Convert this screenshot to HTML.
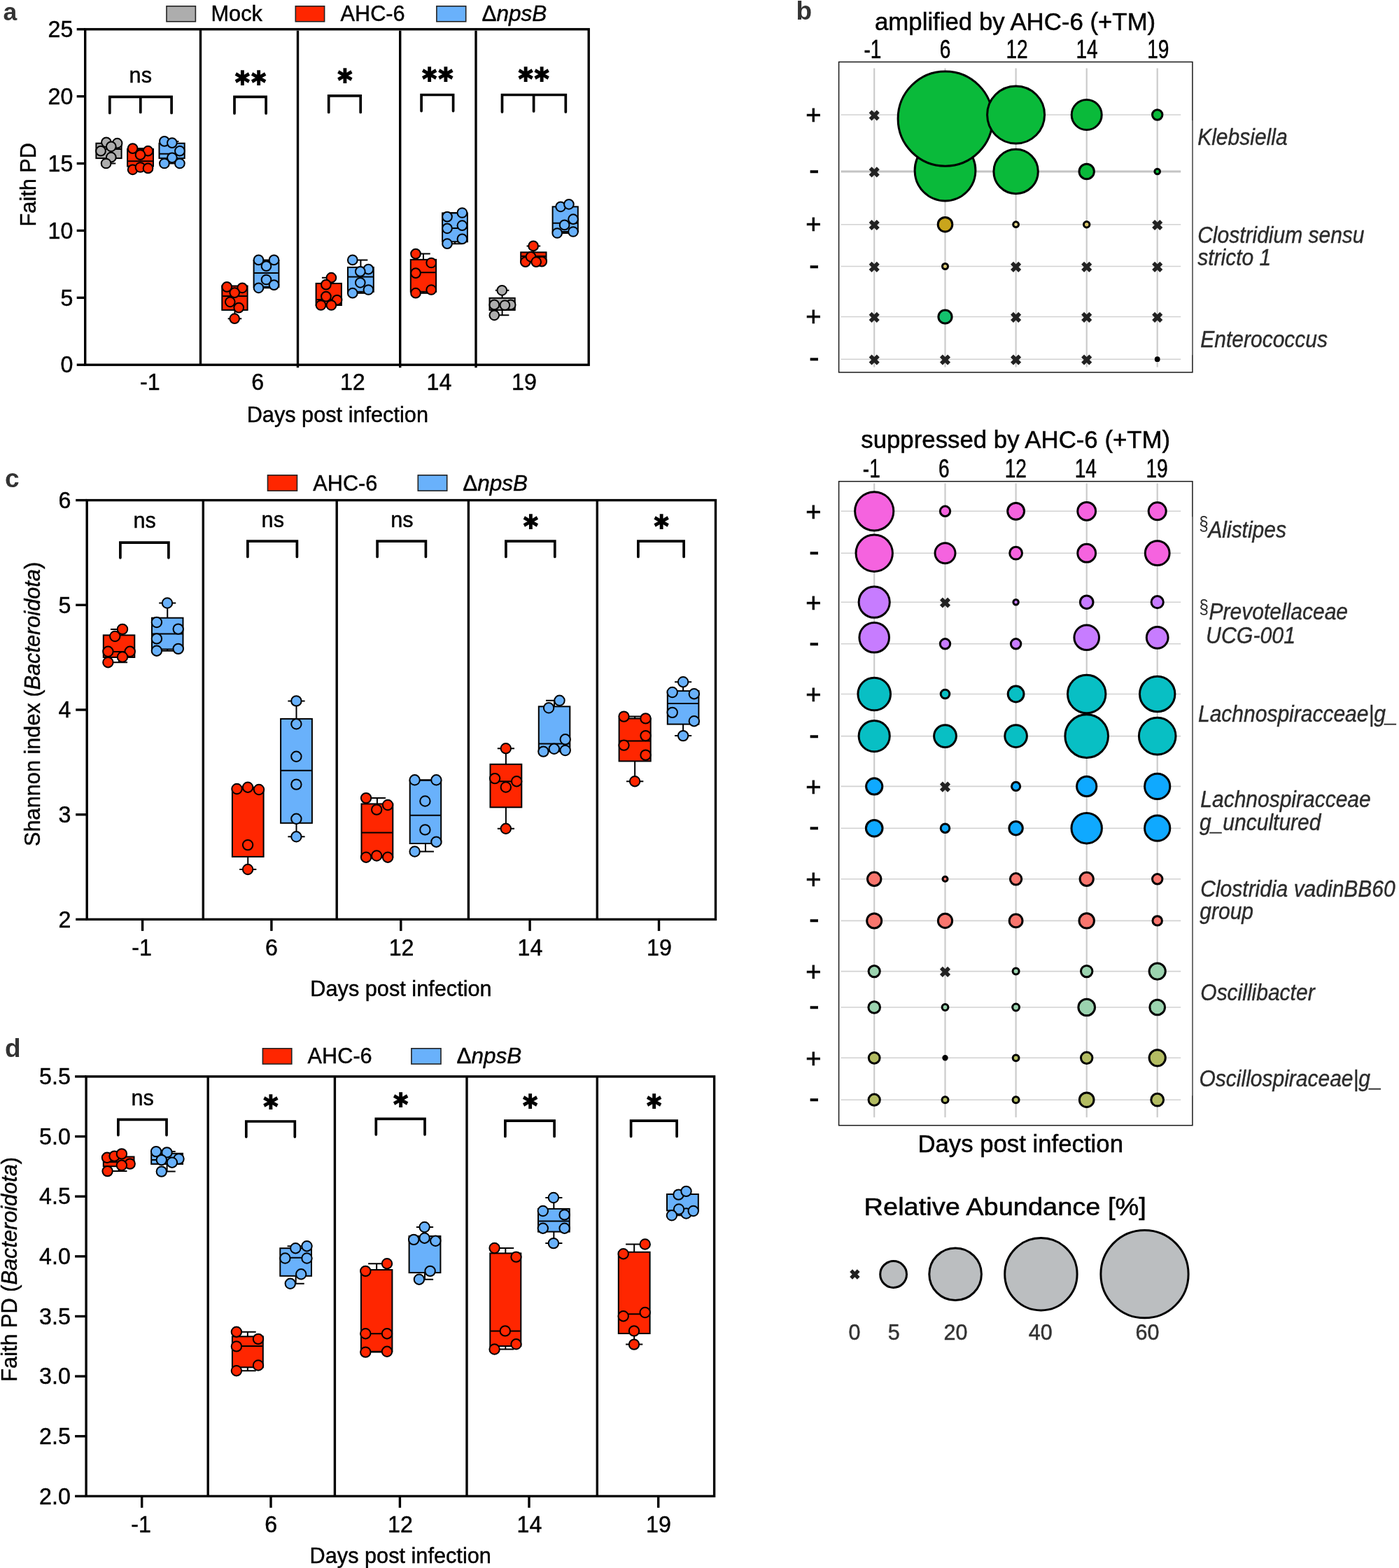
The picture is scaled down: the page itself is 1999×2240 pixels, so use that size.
<!DOCTYPE html>
<html lang="en"><head><meta charset="utf-8"><title>Figure</title>
<style>
html,body{margin:0;padding:0;background:#fff;}
body{width:1999px;height:2240px;overflow:hidden;}
svg{display:block;font-family:"Liberation Sans",sans-serif;}
</style></head><body>
<svg width="1999" height="2240" viewBox="0 0 1999 2240">
<rect x="0" y="0" width="1999" height="2240" fill="#fff"/>
<g id="panel-a">
<text x="4.5" y="29" font-size="35.5" font-weight="bold" fill="#333">a</text>
<rect x="121.7" y="41.8" width="719.5" height="479.4" fill="none" stroke="#000" stroke-width="3.4"/>
<line x1="286.5" y1="41.8" x2="286.5" y2="521.2" stroke="#000" stroke-width="3.4"/>
<line x1="425.5" y1="43.8" x2="425.5" y2="525.2" stroke="#000" stroke-width="3.4"/>
<line x1="571.7" y1="43.8" x2="571.7" y2="525.2" stroke="#000" stroke-width="3.4"/>
<line x1="680" y1="43.8" x2="680" y2="525.2" stroke="#000" stroke-width="3.4"/>
<line x1="109.7" y1="41.8" x2="121.7" y2="41.8" stroke="#000" stroke-width="3.4"/>
<text transform="translate(104.3 53) scale(0.975 1)" font-size="33.026" text-anchor="end" stroke="#000" stroke-width="0.45">25</text>
<line x1="109.7" y1="137.68" x2="121.7" y2="137.68" stroke="#000" stroke-width="3.4"/>
<text transform="translate(104.3 148.88) scale(0.975 1)" font-size="33.026" text-anchor="end" stroke="#000" stroke-width="0.45">20</text>
<line x1="109.7" y1="233.56" x2="121.7" y2="233.56" stroke="#000" stroke-width="3.4"/>
<text transform="translate(104.3 244.76) scale(0.975 1)" font-size="33.026" text-anchor="end" stroke="#000" stroke-width="0.45">15</text>
<line x1="109.7" y1="329.44" x2="121.7" y2="329.44" stroke="#000" stroke-width="3.4"/>
<text transform="translate(104.3 340.64) scale(0.975 1)" font-size="33.026" text-anchor="end" stroke="#000" stroke-width="0.45">10</text>
<line x1="109.7" y1="425.32" x2="121.7" y2="425.32" stroke="#000" stroke-width="3.4"/>
<text transform="translate(104.3 436.52) scale(0.975 1)" font-size="33.026" text-anchor="end" stroke="#000" stroke-width="0.45">5</text>
<line x1="109.7" y1="521.2" x2="121.7" y2="521.2" stroke="#000" stroke-width="3.4"/>
<text transform="translate(104.3 532.4) scale(0.975 1)" font-size="33.026" text-anchor="end" stroke="#000" stroke-width="0.45">0</text>
<text transform="translate(214.3 557.4) scale(0.975 1)" font-size="33.026" text-anchor="middle" stroke="#000" stroke-width="0.45">-1</text>
<text transform="translate(368.1 557.4) scale(0.975 1)" font-size="33.026" text-anchor="middle" stroke="#000" stroke-width="0.45">6</text>
<text transform="translate(503.8 557.4) scale(0.975 1)" font-size="33.026" text-anchor="middle" stroke="#000" stroke-width="0.45">12</text>
<text transform="translate(627.5 557.4) scale(0.975 1)" font-size="33.026" text-anchor="middle" stroke="#000" stroke-width="0.45">14</text>
<text transform="translate(748.9 557.4) scale(0.975 1)" font-size="33.026" text-anchor="middle" stroke="#000" stroke-width="0.45">19</text>
<text transform="translate(482.3 602.6) scale(0.955 1)" font-size="32.147" text-anchor="middle" stroke="#000" stroke-width="0.45">Days post infection</text>
<text transform="translate(51.3 263.7) rotate(-90) scale(0.955 1)" font-size="32.147" text-anchor="middle" stroke="#000" stroke-width="0.45">Faith PD</text>
<rect x="238" y="8.8" width="41.4" height="22" fill="#ADADAD" stroke="#222" stroke-width="1.6"/>
<text transform="translate(301.5 30) scale(0.955 1)" font-size="32.147" stroke="#000" stroke-width="0.45">Mock</text>
<rect x="422.3" y="8.8" width="41.3" height="22" fill="#FF2600" stroke="#222" stroke-width="1.6"/>
<text transform="translate(486.5 30) scale(0.955 1)" font-size="32.147" stroke="#000" stroke-width="0.45">AHC-6</text>
<rect x="623.9" y="8.8" width="41.8" height="22" fill="#69B1FB" stroke="#222" stroke-width="1.6"/>
<text transform="translate(688.5 30) scale(0.955 1)" font-size="32.147" stroke="#000" stroke-width="0.45" textLength="97.173" lengthAdjust="spacingAndGlyphs">Δ<tspan font-style="italic">npsB</tspan></text>
<text transform="translate(200.8 118.1) scale(0.955 1)" font-size="32.147" text-anchor="middle" stroke="#000" stroke-width="0.45">ns</text>
<path d="M156.8 161.5V138.3H245.1V161.5M200.8 138.3V160.5" fill="none" stroke="#000" stroke-width="3.7" stroke-linecap="round" stroke-linejoin="miter"/>
<text transform="translate(358 133.1) scale(0.945 1.03)" x="1.25" y="0" font-size="42" text-anchor="middle" font-weight="bold" font-family="'DejaVu Sans','Liberation Sans',sans-serif" stroke="#000" stroke-width="1.7" stroke-linejoin="miter" letter-spacing="2.5">**</text>
<path d="M335 161.9V138.3H380.1V161.9" fill="none" stroke="#000" stroke-width="3.7" stroke-linecap="round" stroke-linejoin="miter"/>
<text transform="translate(492.9 130.4) scale(0.945 1.03)" x="1.25" y="0" font-size="42" text-anchor="middle" font-weight="bold" font-family="'DejaVu Sans','Liberation Sans',sans-serif" stroke="#000" stroke-width="1.7" stroke-linejoin="miter" letter-spacing="2.5">*</text>
<path d="M469.7 160.4V136.9H515.2V160.4" fill="none" stroke="#000" stroke-width="3.7" stroke-linecap="round" stroke-linejoin="miter"/>
<text transform="translate(625.3 127.7) scale(0.945 1.03)" x="1.25" y="0" font-size="42" text-anchor="middle" font-weight="bold" font-family="'DejaVu Sans','Liberation Sans',sans-serif" stroke="#000" stroke-width="1.7" stroke-linejoin="miter" letter-spacing="2.5">**</text>
<path d="M602.1 158.6V135.5H647.6V158.6" fill="none" stroke="#000" stroke-width="3.7" stroke-linecap="round" stroke-linejoin="miter"/>
<text transform="translate(762.6 128.2) scale(0.945 1.03)" x="1.25" y="0" font-size="42" text-anchor="middle" font-weight="bold" font-family="'DejaVu Sans','Liberation Sans',sans-serif" stroke="#000" stroke-width="1.7" stroke-linejoin="miter" letter-spacing="2.5">**</text>
<path d="M717.5 159.9V135.5H808.3V159.9M762.6 135.5V158.9" fill="none" stroke="#000" stroke-width="3.7" stroke-linecap="round" stroke-linejoin="miter"/>
<g><path d="M155.5 203.3V204.7M155.5 226.1V233.5M145.726 203.3H165.274M145.726 233.5H165.274" stroke="#000" stroke-width="2" fill="none"/><rect x="137.4" y="204.7" width="36.2" height="21.4" fill="#ADADAD" stroke="#000" stroke-width="2"/><path d="M137.4 212.9H173.6" stroke="#000" stroke-width="2"/><circle cx="151.9" cy="203.3" r="6.85" fill="#ADADAD" stroke="#000" stroke-width="2"/><circle cx="167.6" cy="204.7" r="6.85" fill="#ADADAD" stroke="#000" stroke-width="2"/><circle cx="158.8" cy="209.3" r="6.85" fill="#ADADAD" stroke="#000" stroke-width="2"/><circle cx="144" cy="215.7" r="6.85" fill="#ADADAD" stroke="#000" stroke-width="2"/><circle cx="158.8" cy="224.7" r="6.85" fill="#ADADAD" stroke="#000" stroke-width="2"/><circle cx="151.6" cy="233.5" r="6.85" fill="#ADADAD" stroke="#000" stroke-width="2"/></g>
<g><path d="M200.55 212.1V212.9M200.55 237.6V242.3M190.587 212.1H210.513M190.587 242.3H210.513" stroke="#000" stroke-width="2" fill="none"/><rect x="182.1" y="212.9" width="36.9" height="24.7" fill="#FF2600" stroke="#000" stroke-width="2"/><path d="M182.1 230.2H219" stroke="#000" stroke-width="2"/><circle cx="189.6" cy="212.1" r="6.85" fill="#FF2600" stroke="#000" stroke-width="2"/><circle cx="211.5" cy="215.7" r="6.85" fill="#FF2600" stroke="#000" stroke-width="2"/><circle cx="200.5" cy="221.2" r="6.85" fill="#FF2600" stroke="#000" stroke-width="2"/><circle cx="189.6" cy="242.3" r="6.85" fill="#FF2600" stroke="#000" stroke-width="2"/><circle cx="200.5" cy="239" r="6.85" fill="#FF2600" stroke="#000" stroke-width="2"/><circle cx="211.5" cy="240.4" r="6.85" fill="#FF2600" stroke="#000" stroke-width="2"/></g>
<g><path d="M245.6 201.9V204.7M245.6 226.1V233.5M235.826 201.9H255.374M235.826 233.5H255.374" stroke="#000" stroke-width="2" fill="none"/><rect x="227.5" y="204.7" width="36.2" height="21.4" fill="#69B1FB" stroke="#000" stroke-width="2"/><path d="M227.5 219.8H263.7" stroke="#000" stroke-width="2"/><circle cx="234.9" cy="201.9" r="6.85" fill="#69B1FB" stroke="#000" stroke-width="2"/><circle cx="245.9" cy="204.1" r="6.85" fill="#69B1FB" stroke="#000" stroke-width="2"/><circle cx="256.9" cy="215.7" r="6.85" fill="#69B1FB" stroke="#000" stroke-width="2"/><circle cx="234.9" cy="233.5" r="6.85" fill="#69B1FB" stroke="#000" stroke-width="2"/><circle cx="245.9" cy="225.3" r="6.85" fill="#69B1FB" stroke="#000" stroke-width="2"/><circle cx="256.9" cy="233.5" r="6.85" fill="#69B1FB" stroke="#000" stroke-width="2"/></g>
<g><path d="M335.45 409.9V408.5M335.45 442.9V455.2M325.649 409.9H345.251M325.649 455.2H345.251" stroke="#000" stroke-width="2" fill="none"/><rect x="317.3" y="408.5" width="36.3" height="34.4" fill="#FF2600" stroke="#000" stroke-width="2"/><path d="M317.3 423.1H353.6" stroke="#000" stroke-width="2"/><circle cx="324.2" cy="409.9" r="6.85" fill="#FF2600" stroke="#000" stroke-width="2"/><circle cx="346.2" cy="411.3" r="6.85" fill="#FF2600" stroke="#000" stroke-width="2"/><circle cx="335.2" cy="418.1" r="6.85" fill="#FF2600" stroke="#000" stroke-width="2"/><circle cx="328.8" cy="431.3" r="6.85" fill="#FF2600" stroke="#000" stroke-width="2"/><circle cx="341.2" cy="439.6" r="6.85" fill="#FF2600" stroke="#000" stroke-width="2"/><circle cx="335.2" cy="455.2" r="6.85" fill="#FF2600" stroke="#000" stroke-width="2"/></g>
<g><path d="M380.5 371.4V372M380.5 409.9V411.3M370.834 371.4H390.166M370.834 411.3H390.166" stroke="#000" stroke-width="2" fill="none"/><rect x="362.6" y="372" width="35.8" height="37.9" fill="#69B1FB" stroke="#000" stroke-width="2"/><path d="M362.6 390.1H398.4" stroke="#000" stroke-width="2"/><circle cx="369.5" cy="371.4" r="6.85" fill="#69B1FB" stroke="#000" stroke-width="2"/><circle cx="391.5" cy="371.4" r="6.85" fill="#69B1FB" stroke="#000" stroke-width="2"/><circle cx="380.5" cy="380.2" r="6.85" fill="#69B1FB" stroke="#000" stroke-width="2"/><circle cx="380.5" cy="399.5" r="6.85" fill="#69B1FB" stroke="#000" stroke-width="2"/><circle cx="369.5" cy="411.3" r="6.85" fill="#69B1FB" stroke="#000" stroke-width="2"/><circle cx="391.5" cy="407.1" r="6.85" fill="#69B1FB" stroke="#000" stroke-width="2"/></g>
<g><path d="M469.75 396.7V404.9M469.75 436V436M459.949 396.7H479.551M459.949 436H479.551" stroke="#000" stroke-width="2" fill="none"/><rect x="451.6" y="404.9" width="36.3" height="31.1" fill="#FF2600" stroke="#000" stroke-width="2"/><path d="M451.6 428H487.9" stroke="#000" stroke-width="2"/><circle cx="473.4" cy="396.7" r="6.85" fill="#FF2600" stroke="#000" stroke-width="2"/><circle cx="465.9" cy="406.6" r="6.85" fill="#FF2600" stroke="#000" stroke-width="2"/><circle cx="465.9" cy="423.6" r="6.85" fill="#FF2600" stroke="#000" stroke-width="2"/><circle cx="481.6" cy="428.6" r="6.85" fill="#FF2600" stroke="#000" stroke-width="2"/><circle cx="458.5" cy="436" r="6.85" fill="#FF2600" stroke="#000" stroke-width="2"/><circle cx="473.4" cy="436" r="6.85" fill="#FF2600" stroke="#000" stroke-width="2"/></g>
<g><path d="M515.4 371.4V381.9M515.4 416.8V418.7M505.464 371.4H525.336M505.464 418.7H525.336" stroke="#000" stroke-width="2" fill="none"/><rect x="497" y="381.9" width="36.8" height="34.9" fill="#69B1FB" stroke="#000" stroke-width="2"/><path d="M497 395.6H533.8" stroke="#000" stroke-width="2"/><circle cx="503.8" cy="371.4" r="6.85" fill="#69B1FB" stroke="#000" stroke-width="2"/><circle cx="526.4" cy="384.6" r="6.85" fill="#69B1FB" stroke="#000" stroke-width="2"/><circle cx="514.8" cy="387.9" r="6.85" fill="#69B1FB" stroke="#000" stroke-width="2"/><circle cx="514.8" cy="403.8" r="6.85" fill="#69B1FB" stroke="#000" stroke-width="2"/><circle cx="503.8" cy="418.7" r="6.85" fill="#69B1FB" stroke="#000" stroke-width="2"/><circle cx="526.4" cy="414" r="6.85" fill="#69B1FB" stroke="#000" stroke-width="2"/></g>
<g><path d="M604.95 362.6V370.9M604.95 416.8V418.7M595.149 362.6H614.751M595.149 418.7H614.751" stroke="#000" stroke-width="2" fill="none"/><rect x="586.8" y="370.9" width="36.3" height="45.9" fill="#FF2600" stroke="#000" stroke-width="2"/><path d="M586.8 389.3H623.1" stroke="#000" stroke-width="2"/><circle cx="594" cy="362.6" r="6.85" fill="#FF2600" stroke="#000" stroke-width="2"/><circle cx="616.2" cy="375.5" r="6.85" fill="#FF2600" stroke="#000" stroke-width="2"/><circle cx="594" cy="390.1" r="6.85" fill="#FF2600" stroke="#000" stroke-width="2"/><circle cx="594" cy="418.7" r="6.85" fill="#FF2600" stroke="#000" stroke-width="2"/><circle cx="616.2" cy="414" r="6.85" fill="#FF2600" stroke="#000" stroke-width="2"/></g>
<g><path d="M650 304V304.4M650 345.3V348.2M640.334 304H659.666M640.334 348.2H659.666" stroke="#000" stroke-width="2" fill="none"/><rect x="632.1" y="304.4" width="35.8" height="40.9" fill="#69B1FB" stroke="#000" stroke-width="2"/><path d="M632.1 326.1H667.9" stroke="#000" stroke-width="2"/><circle cx="660.4" cy="304" r="6.85" fill="#69B1FB" stroke="#000" stroke-width="2"/><circle cx="639" cy="309.6" r="6.85" fill="#69B1FB" stroke="#000" stroke-width="2"/><circle cx="660.4" cy="322.2" r="6.85" fill="#69B1FB" stroke="#000" stroke-width="2"/><circle cx="639" cy="326.3" r="6.85" fill="#69B1FB" stroke="#000" stroke-width="2"/><circle cx="660.4" cy="341.4" r="6.85" fill="#69B1FB" stroke="#000" stroke-width="2"/><circle cx="639" cy="348.2" r="6.85" fill="#69B1FB" stroke="#000" stroke-width="2"/></g>
<g><path d="M717.6 414.8V425.8M717.6 442.9V450.3M707.826 414.8H727.374M707.826 450.3H727.374" stroke="#000" stroke-width="2" fill="none"/><rect x="699.5" y="425.8" width="36.2" height="17.1" fill="#ADADAD" stroke="#000" stroke-width="2"/><path d="M699.5 436H735.7" stroke="#000" stroke-width="2"/><circle cx="717.3" cy="414.8" r="6.85" fill="#ADADAD" stroke="#000" stroke-width="2"/><circle cx="706.3" cy="435.4" r="6.85" fill="#ADADAD" stroke="#000" stroke-width="2"/><circle cx="729.7" cy="435.4" r="6.85" fill="#ADADAD" stroke="#000" stroke-width="2"/><circle cx="721.4" cy="436" r="6.85" fill="#ADADAD" stroke="#000" stroke-width="2"/><circle cx="706.3" cy="450.3" r="6.85" fill="#ADADAD" stroke="#000" stroke-width="2"/></g>
<g><path d="M762.35 351.4V360.4M762.35 374.2V374.2M752.549 351.4H772.151M752.549 374.2H772.151" stroke="#000" stroke-width="2" fill="none"/><rect x="744.2" y="360.4" width="36.3" height="13.8" fill="#FF2600" stroke="#000" stroke-width="2"/><path d="M744.2 366H780.5" stroke="#000" stroke-width="2"/><circle cx="762.1" cy="351.4" r="6.85" fill="#FF2600" stroke="#000" stroke-width="2"/><circle cx="750.8" cy="374.2" r="6.85" fill="#FF2600" stroke="#000" stroke-width="2"/><circle cx="774.2" cy="373.6" r="6.85" fill="#FF2600" stroke="#000" stroke-width="2"/><circle cx="758.5" cy="366.8" r="6.85" fill="#FF2600" stroke="#000" stroke-width="2"/><circle cx="766.2" cy="374.2" r="6.85" fill="#FF2600" stroke="#000" stroke-width="2"/></g>
<g><path d="M807.7 291.8V295.3M807.7 331V333M797.926 291.8H817.474M797.926 333H817.474" stroke="#000" stroke-width="2" fill="none"/><rect x="789.6" y="295.3" width="36.2" height="35.7" fill="#69B1FB" stroke="#000" stroke-width="2"/><path d="M789.6 318.7H825.8" stroke="#000" stroke-width="2"/><circle cx="801.1" cy="295.3" r="6.85" fill="#69B1FB" stroke="#000" stroke-width="2"/><circle cx="812.9" cy="291.8" r="6.85" fill="#69B1FB" stroke="#000" stroke-width="2"/><circle cx="819" cy="313.2" r="6.85" fill="#69B1FB" stroke="#000" stroke-width="2"/><circle cx="806.6" cy="321.4" r="6.85" fill="#69B1FB" stroke="#000" stroke-width="2"/><circle cx="796.2" cy="333" r="6.85" fill="#69B1FB" stroke="#000" stroke-width="2"/><circle cx="819" cy="331" r="6.85" fill="#69B1FB" stroke="#000" stroke-width="2"/></g>
</g>
<g id="panel-c">
<text x="7" y="695.5" font-size="37" font-weight="bold" fill="#333">c</text>
<rect x="124.2" y="714.6" width="898.3" height="598.8" fill="none" stroke="#000" stroke-width="3.4"/>
<line x1="290.3" y1="714.6" x2="290.3" y2="1313.4" stroke="#000" stroke-width="3.4"/>
<line x1="481.2" y1="714.6" x2="481.2" y2="1313.4" stroke="#000" stroke-width="3.4"/>
<line x1="669.4" y1="714.6" x2="669.4" y2="1313.4" stroke="#000" stroke-width="3.4"/>
<line x1="853.3" y1="714.6" x2="853.3" y2="1313.4" stroke="#000" stroke-width="3.4"/>
<line x1="108.2" y1="714.6" x2="124.2" y2="714.6" stroke="#000" stroke-width="3.4"/>
<text transform="translate(101.3 725.8) scale(0.975 1)" font-size="33.026" text-anchor="end" stroke="#000" stroke-width="0.45">6</text>
<line x1="108.2" y1="864.3" x2="124.2" y2="864.3" stroke="#000" stroke-width="3.4"/>
<text transform="translate(101.3 875.5) scale(0.975 1)" font-size="33.026" text-anchor="end" stroke="#000" stroke-width="0.45">5</text>
<line x1="108.2" y1="1014" x2="124.2" y2="1014" stroke="#000" stroke-width="3.4"/>
<text transform="translate(101.3 1025.2) scale(0.975 1)" font-size="33.026" text-anchor="end" stroke="#000" stroke-width="0.45">4</text>
<line x1="108.2" y1="1163.7" x2="124.2" y2="1163.7" stroke="#000" stroke-width="3.4"/>
<text transform="translate(101.3 1174.9) scale(0.975 1)" font-size="33.026" text-anchor="end" stroke="#000" stroke-width="0.45">3</text>
<line x1="108.2" y1="1313.4" x2="124.2" y2="1313.4" stroke="#000" stroke-width="3.4"/>
<text transform="translate(101.3 1324.6) scale(0.975 1)" font-size="33.026" text-anchor="end" stroke="#000" stroke-width="0.45">2</text>
<line x1="203.6" y1="1313.4" x2="203.6" y2="1329.9" stroke="#000" stroke-width="3.4"/>
<line x1="387.9" y1="1313.4" x2="387.9" y2="1329.9" stroke="#000" stroke-width="3.4"/>
<line x1="572.8" y1="1313.4" x2="572.8" y2="1329.9" stroke="#000" stroke-width="3.4"/>
<line x1="757.1" y1="1313.4" x2="757.1" y2="1329.9" stroke="#000" stroke-width="3.4"/>
<line x1="941.5" y1="1313.4" x2="941.5" y2="1329.9" stroke="#000" stroke-width="3.4"/>
<text transform="translate(202.5 1365) scale(0.975 1)" font-size="33.026" text-anchor="middle" stroke="#000" stroke-width="0.45">-1</text>
<text transform="translate(388 1365) scale(0.975 1)" font-size="33.026" text-anchor="middle" stroke="#000" stroke-width="0.45">6</text>
<text transform="translate(573.6 1365) scale(0.975 1)" font-size="33.026" text-anchor="middle" stroke="#000" stroke-width="0.45">12</text>
<text transform="translate(757.4 1365) scale(0.975 1)" font-size="33.026" text-anchor="middle" stroke="#000" stroke-width="0.45">14</text>
<text transform="translate(942 1365) scale(0.975 1)" font-size="33.026" text-anchor="middle" stroke="#000" stroke-width="0.45">19</text>
<text transform="translate(573 1422.5) scale(0.955 1)" font-size="32.147" text-anchor="middle" stroke="#000" stroke-width="0.45">Days post infection</text>
<text transform="translate(56.7 1005.9) rotate(-90) scale(0.955 1)" font-size="32.147" text-anchor="middle" stroke="#000" stroke-width="0.45">Shannon index (<tspan font-style="italic">Bacteroidota</tspan>)</text>
<rect x="382.5" y="678.8" width="42" height="22.3" fill="#FF2600" stroke="#222" stroke-width="1.6"/>
<text transform="translate(447.3 700.5) scale(0.955 1)" font-size="32.147" stroke="#000" stroke-width="0.45">AHC-6</text>
<rect x="597.3" y="678.8" width="41.4" height="22.3" fill="#69B1FB" stroke="#222" stroke-width="1.6"/>
<text transform="translate(661.3 700.5) scale(0.955 1)" font-size="32.147" stroke="#000" stroke-width="0.45" textLength="97.173" lengthAdjust="spacingAndGlyphs">Δ<tspan font-style="italic">npsB</tspan></text>
<text transform="translate(206.6 754.4) scale(0.955 1)" font-size="32.147" text-anchor="middle" stroke="#000" stroke-width="0.45">ns</text>
<path d="M171.9 796.8V775.1H240.9V796.8" fill="none" stroke="#000" stroke-width="3.7" stroke-linecap="round" stroke-linejoin="miter"/>
<text transform="translate(389.8 753) scale(0.955 1)" font-size="32.147" text-anchor="middle" stroke="#000" stroke-width="0.45">ns</text>
<path d="M353.9 795.5V773.2H424.4V795.5" fill="none" stroke="#000" stroke-width="3.7" stroke-linecap="round" stroke-linejoin="miter"/>
<text transform="translate(574.5 753) scale(0.955 1)" font-size="32.147" text-anchor="middle" stroke="#000" stroke-width="0.45">ns</text>
<path d="M539.1 795.5V773.2H608.4V795.5" fill="none" stroke="#000" stroke-width="3.7" stroke-linecap="round" stroke-linejoin="miter"/>
<text transform="translate(758.4 767.2) scale(0.945 1.03)" x="1.25" y="0" font-size="42" text-anchor="middle" font-weight="bold" font-family="'DejaVu Sans','Liberation Sans',sans-serif" stroke="#000" stroke-width="1.7" stroke-linejoin="miter" letter-spacing="2.5">*</text>
<path d="M722.9 795.5V773.2H792.8V795.5" fill="none" stroke="#000" stroke-width="3.7" stroke-linecap="round" stroke-linejoin="miter"/>
<text transform="translate(945.2 767.2) scale(0.945 1.03)" x="1.25" y="0" font-size="42" text-anchor="middle" font-weight="bold" font-family="'DejaVu Sans','Liberation Sans',sans-serif" stroke="#000" stroke-width="1.7" stroke-linejoin="miter" letter-spacing="2.5">*</text>
<path d="M911.9 795.5V773.2H977.1V795.5" fill="none" stroke="#000" stroke-width="3.7" stroke-linecap="round" stroke-linejoin="miter"/>
<g><path d="M170.05 898.9V907.4M170.05 939V946.2M158.035 898.9H182.065M158.035 946.2H182.065" stroke="#000" stroke-width="2" fill="none"/><rect x="147.8" y="907.4" width="44.5" height="31.6" fill="#FF2600" stroke="#000" stroke-width="2"/><path d="M147.8 931H192.3" stroke="#000" stroke-width="2"/><circle cx="175" cy="898.9" r="7.2" fill="#FF2600" stroke="#000" stroke-width="2"/><circle cx="164.3" cy="909" r="7.2" fill="#FF2600" stroke="#000" stroke-width="2"/><circle cx="154.4" cy="930.8" r="7.2" fill="#FF2600" stroke="#000" stroke-width="2"/><circle cx="185.7" cy="930.8" r="7.2" fill="#FF2600" stroke="#000" stroke-width="2"/><circle cx="175" cy="938.5" r="7.2" fill="#FF2600" stroke="#000" stroke-width="2"/><circle cx="154.4" cy="946.2" r="7.2" fill="#FF2600" stroke="#000" stroke-width="2"/></g>
<g><path d="M239.25 861.5V882.7M239.25 927.5V929.7M227.235 861.5H251.265M227.235 929.7H251.265" stroke="#000" stroke-width="2" fill="none"/><rect x="217" y="882.7" width="44.5" height="44.8" fill="#69B1FB" stroke="#000" stroke-width="2"/><path d="M217 905.5H261.5" stroke="#000" stroke-width="2"/><circle cx="239" cy="861.5" r="7.2" fill="#69B1FB" stroke="#000" stroke-width="2"/><circle cx="223.9" cy="889" r="7.2" fill="#69B1FB" stroke="#000" stroke-width="2"/><circle cx="254.7" cy="898.6" r="7.2" fill="#69B1FB" stroke="#000" stroke-width="2"/><circle cx="223.9" cy="912.4" r="7.2" fill="#69B1FB" stroke="#000" stroke-width="2"/><circle cx="223.9" cy="929.7" r="7.2" fill="#69B1FB" stroke="#000" stroke-width="2"/><circle cx="254.7" cy="926.9" r="7.2" fill="#69B1FB" stroke="#000" stroke-width="2"/></g>
<g><path d="M354.25 1124.7V1127.2M354.25 1223.9V1242M342.181 1124.7H366.319M342.181 1242H366.319" stroke="#000" stroke-width="2" fill="none"/><rect x="331.9" y="1127.2" width="44.7" height="96.7" fill="#FF2600" stroke="#000" stroke-width="2"/><circle cx="338.5" cy="1127" r="7.2" fill="#FF2600" stroke="#000" stroke-width="2"/><circle cx="354.1" cy="1124.7" r="7.2" fill="#FF2600" stroke="#000" stroke-width="2"/><circle cx="370" cy="1128" r="7.2" fill="#FF2600" stroke="#000" stroke-width="2"/><circle cx="354.1" cy="1207.1" r="7.2" fill="#FF2600" stroke="#000" stroke-width="2"/><circle cx="354.1" cy="1242" r="7.2" fill="#FF2600" stroke="#000" stroke-width="2"/></g>
<g><path d="M423.5 1001.4V1026.9M423.5 1175.8V1195.3M411.404 1001.4H435.596M411.404 1195.3H435.596" stroke="#000" stroke-width="2" fill="none"/><rect x="401.1" y="1026.9" width="44.8" height="148.9" fill="#69B1FB" stroke="#000" stroke-width="2"/><path d="M401.1 1100.8H445.9" stroke="#000" stroke-width="2"/><circle cx="423.4" cy="1001.4" r="7.2" fill="#69B1FB" stroke="#000" stroke-width="2"/><circle cx="423.4" cy="1034.3" r="7.2" fill="#69B1FB" stroke="#000" stroke-width="2"/><circle cx="423.4" cy="1080.8" r="7.2" fill="#69B1FB" stroke="#000" stroke-width="2"/><circle cx="423.4" cy="1120.6" r="7.2" fill="#69B1FB" stroke="#000" stroke-width="2"/><circle cx="423.4" cy="1169.8" r="7.2" fill="#69B1FB" stroke="#000" stroke-width="2"/><circle cx="423.4" cy="1195.3" r="7.2" fill="#69B1FB" stroke="#000" stroke-width="2"/></g>
<g><path d="M538.9 1140.1V1148.4M538.9 1224.7V1224.7M526.804 1140.1H550.996M526.804 1224.7H550.996" stroke="#000" stroke-width="2" fill="none"/><rect x="516.5" y="1148.4" width="44.8" height="76.3" fill="#FF2600" stroke="#000" stroke-width="2"/><path d="M516.5 1189.6H561.3" stroke="#000" stroke-width="2"/><circle cx="523.1" cy="1140.1" r="7.2" fill="#FF2600" stroke="#000" stroke-width="2"/><circle cx="554.1" cy="1150" r="7.2" fill="#FF2600" stroke="#000" stroke-width="2"/><circle cx="538.2" cy="1156.6" r="7.2" fill="#FF2600" stroke="#000" stroke-width="2"/><circle cx="523.1" cy="1224.7" r="7.2" fill="#FF2600" stroke="#000" stroke-width="2"/><circle cx="538.2" cy="1222.5" r="7.2" fill="#FF2600" stroke="#000" stroke-width="2"/><circle cx="554.1" cy="1224.7" r="7.2" fill="#FF2600" stroke="#000" stroke-width="2"/></g>
<g><path d="M607.95 1114.3V1114.8M607.95 1205V1216.5M595.935 1114.3H619.965M595.935 1216.5H619.965" stroke="#000" stroke-width="2" fill="none"/><rect x="585.7" y="1114.8" width="44.5" height="90.2" fill="#69B1FB" stroke="#000" stroke-width="2"/><path d="M585.7 1164.8H630.2" stroke="#000" stroke-width="2"/><circle cx="592.6" cy="1114.3" r="7.2" fill="#69B1FB" stroke="#000" stroke-width="2"/><circle cx="623.4" cy="1114.3" r="7.2" fill="#69B1FB" stroke="#000" stroke-width="2"/><circle cx="607.4" cy="1144.5" r="7.2" fill="#69B1FB" stroke="#000" stroke-width="2"/><circle cx="607.4" cy="1185.4" r="7.2" fill="#69B1FB" stroke="#000" stroke-width="2"/><circle cx="623.4" cy="1202.7" r="7.2" fill="#69B1FB" stroke="#000" stroke-width="2"/><circle cx="592.6" cy="1216.5" r="7.2" fill="#69B1FB" stroke="#000" stroke-width="2"/></g>
<g><path d="M722.9 1069.2V1091.8M722.9 1153.3V1183.8M710.804 1069.2H734.996M710.804 1183.8H734.996" stroke="#000" stroke-width="2" fill="none"/><rect x="700.5" y="1091.8" width="44.8" height="61.5" fill="#FF2600" stroke="#000" stroke-width="2"/><path d="M700.5 1116.2H745.3" stroke="#000" stroke-width="2"/><circle cx="722.8" cy="1069.2" r="7.2" fill="#FF2600" stroke="#000" stroke-width="2"/><circle cx="707.1" cy="1112.1" r="7.2" fill="#FF2600" stroke="#000" stroke-width="2"/><circle cx="738.2" cy="1116.2" r="7.2" fill="#FF2600" stroke="#000" stroke-width="2"/><circle cx="722.8" cy="1124.5" r="7.2" fill="#FF2600" stroke="#000" stroke-width="2"/><circle cx="722.8" cy="1183.8" r="7.2" fill="#FF2600" stroke="#000" stroke-width="2"/></g>
<g><path d="M792.05 1000.8V1009.3M792.05 1072.3V1073.6M780.035 1000.8H804.065M780.035 1073.6H804.065" stroke="#000" stroke-width="2" fill="none"/><rect x="769.8" y="1009.3" width="44.5" height="63" fill="#69B1FB" stroke="#000" stroke-width="2"/><path d="M769.8 1062.6H814.3" stroke="#000" stroke-width="2"/><circle cx="799.5" cy="1000.8" r="7.2" fill="#69B1FB" stroke="#000" stroke-width="2"/><circle cx="784.1" cy="1011.3" r="7.2" fill="#69B1FB" stroke="#000" stroke-width="2"/><circle cx="807.7" cy="1056.3" r="7.2" fill="#69B1FB" stroke="#000" stroke-width="2"/><circle cx="776.4" cy="1073.6" r="7.2" fill="#69B1FB" stroke="#000" stroke-width="2"/><circle cx="791.8" cy="1069.8" r="7.2" fill="#69B1FB" stroke="#000" stroke-width="2"/><circle cx="807.7" cy="1072" r="7.2" fill="#69B1FB" stroke="#000" stroke-width="2"/></g>
<g><path d="M907.15 1023.6V1026.4M907.15 1087.4V1116.2M894.973 1023.6H919.327M894.973 1116.2H919.327" stroke="#000" stroke-width="2" fill="none"/><rect x="884.6" y="1026.4" width="45.1" height="61" fill="#FF2600" stroke="#000" stroke-width="2"/><path d="M884.6 1058.5H929.7" stroke="#000" stroke-width="2"/><circle cx="891.5" cy="1023.6" r="7.2" fill="#FF2600" stroke="#000" stroke-width="2"/><circle cx="922.5" cy="1026.4" r="7.2" fill="#FF2600" stroke="#000" stroke-width="2"/><circle cx="922.5" cy="1051.1" r="7.2" fill="#FF2600" stroke="#000" stroke-width="2"/><circle cx="891.5" cy="1064.6" r="7.2" fill="#FF2600" stroke="#000" stroke-width="2"/><circle cx="922.5" cy="1078.6" r="7.2" fill="#FF2600" stroke="#000" stroke-width="2"/><circle cx="907.1" cy="1116.2" r="7.2" fill="#FF2600" stroke="#000" stroke-width="2"/></g>
<g><path d="M976.1 974.2V987.1M976.1 1034.6V1051.1M964.058 974.2H988.142M964.058 1051.1H988.142" stroke="#000" stroke-width="2" fill="none"/><rect x="953.8" y="987.1" width="44.6" height="47.5" fill="#69B1FB" stroke="#000" stroke-width="2"/><path d="M953.8 1004.9H998.4" stroke="#000" stroke-width="2"/><circle cx="976.1" cy="974.2" r="7.2" fill="#69B1FB" stroke="#000" stroke-width="2"/><circle cx="960.7" cy="989" r="7.2" fill="#69B1FB" stroke="#000" stroke-width="2"/><circle cx="991.8" cy="991.2" r="7.2" fill="#69B1FB" stroke="#000" stroke-width="2"/><circle cx="960.7" cy="1017.9" r="7.2" fill="#69B1FB" stroke="#000" stroke-width="2"/><circle cx="991.8" cy="1030.2" r="7.2" fill="#69B1FB" stroke="#000" stroke-width="2"/><circle cx="976.1" cy="1051.1" r="7.2" fill="#69B1FB" stroke="#000" stroke-width="2"/></g>
</g>
<g id="panel-d">
<text x="7" y="1510.4" font-size="37" font-weight="bold" fill="#333">d</text>
<rect x="123.1" y="1537.9" width="897.5" height="599.5" fill="none" stroke="#000" stroke-width="3.4"/>
<line x1="297.2" y1="1537.9" x2="297.2" y2="2137.4" stroke="#000" stroke-width="3.4"/>
<line x1="478.4" y1="1537.9" x2="478.4" y2="2137.4" stroke="#000" stroke-width="3.4"/>
<line x1="667" y1="1537.9" x2="667" y2="2137.4" stroke="#000" stroke-width="3.4"/>
<line x1="853.3" y1="1537.9" x2="853.3" y2="2137.4" stroke="#000" stroke-width="3.4"/>
<line x1="107.1" y1="1537.9" x2="123.1" y2="1537.9" stroke="#000" stroke-width="3.4"/>
<text transform="translate(100.8 1549.1) scale(0.975 1)" font-size="33.026" text-anchor="end" stroke="#000" stroke-width="0.45">5.5</text>
<line x1="107.1" y1="1623.543" x2="123.1" y2="1623.543" stroke="#000" stroke-width="3.4"/>
<text transform="translate(100.8 1634.743) scale(0.975 1)" font-size="33.026" text-anchor="end" stroke="#000" stroke-width="0.45">5.0</text>
<line x1="107.1" y1="1709.186" x2="123.1" y2="1709.186" stroke="#000" stroke-width="3.4"/>
<text transform="translate(100.8 1720.386) scale(0.975 1)" font-size="33.026" text-anchor="end" stroke="#000" stroke-width="0.45">4.5</text>
<line x1="107.1" y1="1794.829" x2="123.1" y2="1794.829" stroke="#000" stroke-width="3.4"/>
<text transform="translate(100.8 1806.029) scale(0.975 1)" font-size="33.026" text-anchor="end" stroke="#000" stroke-width="0.45">4.0</text>
<line x1="107.1" y1="1880.471" x2="123.1" y2="1880.471" stroke="#000" stroke-width="3.4"/>
<text transform="translate(100.8 1891.671) scale(0.975 1)" font-size="33.026" text-anchor="end" stroke="#000" stroke-width="0.45">3.5</text>
<line x1="107.1" y1="1966.114" x2="123.1" y2="1966.114" stroke="#000" stroke-width="3.4"/>
<text transform="translate(100.8 1977.314) scale(0.975 1)" font-size="33.026" text-anchor="end" stroke="#000" stroke-width="0.45">3.0</text>
<line x1="107.1" y1="2051.757" x2="123.1" y2="2051.757" stroke="#000" stroke-width="3.4"/>
<text transform="translate(100.8 2062.957) scale(0.975 1)" font-size="33.026" text-anchor="end" stroke="#000" stroke-width="0.45">2.5</text>
<line x1="107.1" y1="2137.4" x2="123.1" y2="2137.4" stroke="#000" stroke-width="3.4"/>
<text transform="translate(100.8 2148.6) scale(0.975 1)" font-size="33.026" text-anchor="end" stroke="#000" stroke-width="0.45">2.0</text>
<line x1="202.7" y1="2137.4" x2="202.7" y2="2153.9" stroke="#000" stroke-width="3.4"/>
<line x1="387" y1="2137.4" x2="387" y2="2153.9" stroke="#000" stroke-width="3.4"/>
<line x1="571.4" y1="2137.4" x2="571.4" y2="2153.9" stroke="#000" stroke-width="3.4"/>
<line x1="756" y1="2137.4" x2="756" y2="2153.9" stroke="#000" stroke-width="3.4"/>
<line x1="940.7" y1="2137.4" x2="940.7" y2="2153.9" stroke="#000" stroke-width="3.4"/>
<text transform="translate(201.5 2188.8) scale(0.975 1)" font-size="33.026" text-anchor="middle" stroke="#000" stroke-width="0.45">-1</text>
<text transform="translate(387.2 2188.8) scale(0.975 1)" font-size="33.026" text-anchor="middle" stroke="#000" stroke-width="0.45">6</text>
<text transform="translate(572 2188.8) scale(0.975 1)" font-size="33.026" text-anchor="middle" stroke="#000" stroke-width="0.45">12</text>
<text transform="translate(756.5 2188.8) scale(0.975 1)" font-size="33.026" text-anchor="middle" stroke="#000" stroke-width="0.45">14</text>
<text transform="translate(941 2188.8) scale(0.975 1)" font-size="33.026" text-anchor="middle" stroke="#000" stroke-width="0.45">19</text>
<text transform="translate(572.2 2232.6) scale(0.955 1)" font-size="32.147" text-anchor="middle" stroke="#000" stroke-width="0.45">Days post infection</text>
<text transform="translate(23.6 1813.3) rotate(-90) scale(0.955 1)" font-size="32.147" text-anchor="middle" stroke="#000" stroke-width="0.45">Faith PD (<tspan font-style="italic">Bacteroidota</tspan>)</text>
<rect x="375.4" y="1497.8" width="41.4" height="22.2" fill="#FF2600" stroke="#222" stroke-width="1.6"/>
<text transform="translate(439.6 1519.2) scale(0.955 1)" font-size="32.147" stroke="#000" stroke-width="0.45">AHC-6</text>
<rect x="587.9" y="1497.8" width="42.1" height="22.2" fill="#69B1FB" stroke="#222" stroke-width="1.6"/>
<text transform="translate(652.5 1519.2) scale(0.955 1)" font-size="32.147" stroke="#000" stroke-width="0.45" textLength="97.173" lengthAdjust="spacingAndGlyphs">Δ<tspan font-style="italic">npsB</tspan></text>
<text transform="translate(203.6 1579.1) scale(0.955 1)" font-size="32.147" text-anchor="middle" stroke="#000" stroke-width="0.45">ns</text>
<path d="M168.9 1621.6V1599.3H238V1621.6" fill="none" stroke="#000" stroke-width="3.7" stroke-linecap="round" stroke-linejoin="miter"/>
<text transform="translate(386.9 1596.3) scale(0.945 1.03)" x="1.25" y="0" font-size="42" text-anchor="middle" font-weight="bold" font-family="'DejaVu Sans','Liberation Sans',sans-serif" stroke="#000" stroke-width="1.7" stroke-linejoin="miter" letter-spacing="2.5">*</text>
<path d="M351.8 1624.1V1602H421.3V1624.1" fill="none" stroke="#000" stroke-width="3.7" stroke-linecap="round" stroke-linejoin="miter"/>
<text transform="translate(572.7 1593) scale(0.945 1.03)" x="1.25" y="0" font-size="42" text-anchor="middle" font-weight="bold" font-family="'DejaVu Sans','Liberation Sans',sans-serif" stroke="#000" stroke-width="1.7" stroke-linejoin="miter" letter-spacing="2.5">*</text>
<path d="M537.3 1620.8V1598.4H607V1620.8" fill="none" stroke="#000" stroke-width="3.7" stroke-linecap="round" stroke-linejoin="miter"/>
<text transform="translate(757.5 1595.2) scale(0.945 1.03)" x="1.25" y="0" font-size="42" text-anchor="middle" font-weight="bold" font-family="'DejaVu Sans','Liberation Sans',sans-serif" stroke="#000" stroke-width="1.7" stroke-linejoin="miter" letter-spacing="2.5">*</text>
<path d="M721.9 1623.5V1601.2H792.1V1623.5" fill="none" stroke="#000" stroke-width="3.7" stroke-linecap="round" stroke-linejoin="miter"/>
<text transform="translate(934.7 1595.2) scale(0.945 1.03)" x="1.25" y="0" font-size="42" text-anchor="middle" font-weight="bold" font-family="'DejaVu Sans','Liberation Sans',sans-serif" stroke="#000" stroke-width="1.7" stroke-linejoin="miter" letter-spacing="2.5">*</text>
<path d="M901.6 1623.5V1601.2H967.1V1623.5" fill="none" stroke="#000" stroke-width="3.7" stroke-linecap="round" stroke-linejoin="miter"/>
<g><path d="M169.65 1648.4V1652.5M169.65 1666.2V1673.1M157.851 1648.4H181.449M157.851 1673.1H181.449" stroke="#000" stroke-width="2" fill="none"/><rect x="147.8" y="1652.5" width="43.7" height="13.7" fill="#FF2600" stroke="#000" stroke-width="2"/><path d="M147.8 1660H191.5" stroke="#000" stroke-width="2"/><circle cx="153" cy="1653.8" r="7.2" fill="#FF2600" stroke="#000" stroke-width="2"/><circle cx="163.5" cy="1651.6" r="7.2" fill="#FF2600" stroke="#000" stroke-width="2"/><circle cx="173.9" cy="1648.4" r="7.2" fill="#FF2600" stroke="#000" stroke-width="2"/><circle cx="185.7" cy="1662.6" r="7.2" fill="#FF2600" stroke="#000" stroke-width="2"/><circle cx="173.9" cy="1664.8" r="7.2" fill="#FF2600" stroke="#000" stroke-width="2"/><circle cx="153.6" cy="1673.1" r="7.2" fill="#FF2600" stroke="#000" stroke-width="2"/></g>
<g><path d="M238.6 1645.1V1647.8M238.6 1662.9V1673.6M226.504 1645.1H250.696M226.504 1673.6H250.696" stroke="#000" stroke-width="2" fill="none"/><rect x="216.2" y="1647.8" width="44.8" height="15.1" fill="#69B1FB" stroke="#000" stroke-width="2"/><path d="M216.2 1657H261" stroke="#000" stroke-width="2"/><circle cx="223.1" cy="1645.1" r="7.2" fill="#69B1FB" stroke="#000" stroke-width="2"/><circle cx="238.5" cy="1646.4" r="7.2" fill="#69B1FB" stroke="#000" stroke-width="2"/><circle cx="255.5" cy="1655.5" r="7.2" fill="#69B1FB" stroke="#000" stroke-width="2"/><circle cx="230.8" cy="1657.1" r="7.2" fill="#69B1FB" stroke="#000" stroke-width="2"/><circle cx="245.9" cy="1660.7" r="7.2" fill="#69B1FB" stroke="#000" stroke-width="2"/><circle cx="230.8" cy="1673.6" r="7.2" fill="#69B1FB" stroke="#000" stroke-width="2"/></g>
<g><path d="M353.85 1902.7V1909.3M353.85 1953.3V1958.2M341.997 1902.7H365.703M341.997 1958.2H365.703" stroke="#000" stroke-width="2" fill="none"/><rect x="331.9" y="1909.3" width="43.9" height="44" fill="#FF2600" stroke="#000" stroke-width="2"/><path d="M331.9 1923.1H375.8" stroke="#000" stroke-width="2"/><circle cx="337.9" cy="1902.7" r="7.2" fill="#FF2600" stroke="#000" stroke-width="2"/><circle cx="369" cy="1912.9" r="7.2" fill="#FF2600" stroke="#000" stroke-width="2"/><circle cx="337.9" cy="1923.4" r="7.2" fill="#FF2600" stroke="#000" stroke-width="2"/><circle cx="369" cy="1950.5" r="7.2" fill="#FF2600" stroke="#000" stroke-width="2"/><circle cx="337.9" cy="1958.2" r="7.2" fill="#FF2600" stroke="#000" stroke-width="2"/></g>
<g><path d="M422.65 1780.2V1783.2M422.65 1822.8V1833.8M410.581 1780.2H434.719M410.581 1833.8H434.719" stroke="#000" stroke-width="2" fill="none"/><rect x="400.3" y="1783.2" width="44.7" height="39.6" fill="#69B1FB" stroke="#000" stroke-width="2"/><path d="M400.3 1796.7H445" stroke="#000" stroke-width="2"/><circle cx="438.5" cy="1780.2" r="7.2" fill="#69B1FB" stroke="#000" stroke-width="2"/><circle cx="422.3" cy="1783.2" r="7.2" fill="#69B1FB" stroke="#000" stroke-width="2"/><circle cx="407.4" cy="1797.5" r="7.2" fill="#69B1FB" stroke="#000" stroke-width="2"/><circle cx="438.5" cy="1797.5" r="7.2" fill="#69B1FB" stroke="#000" stroke-width="2"/><circle cx="430.2" cy="1820.3" r="7.2" fill="#69B1FB" stroke="#000" stroke-width="2"/><circle cx="414.8" cy="1833.8" r="7.2" fill="#69B1FB" stroke="#000" stroke-width="2"/></g>
<g><path d="M538.15 1805.2V1814M538.15 1930.8V1931.6M526.135 1805.2H550.165M526.135 1931.6H550.165" stroke="#000" stroke-width="2" fill="none"/><rect x="515.9" y="1814" width="44.5" height="116.8" fill="#FF2600" stroke="#000" stroke-width="2"/><path d="M515.9 1905.2H560.4" stroke="#000" stroke-width="2"/><circle cx="553" cy="1805.2" r="7.2" fill="#FF2600" stroke="#000" stroke-width="2"/><circle cx="522.3" cy="1815.9" r="7.2" fill="#FF2600" stroke="#000" stroke-width="2"/><circle cx="522.3" cy="1905.2" r="7.2" fill="#FF2600" stroke="#000" stroke-width="2"/><circle cx="553" cy="1905.2" r="7.2" fill="#FF2600" stroke="#000" stroke-width="2"/><circle cx="522.3" cy="1931.6" r="7.2" fill="#FF2600" stroke="#000" stroke-width="2"/><circle cx="553" cy="1930.8" r="7.2" fill="#FF2600" stroke="#000" stroke-width="2"/></g>
<g><path d="M607 1753V1765.9M607 1818.1V1827.7M594.904 1753H619.096M594.904 1827.7H619.096" stroke="#000" stroke-width="2" fill="none"/><rect x="584.6" y="1765.9" width="44.8" height="52.2" fill="#69B1FB" stroke="#000" stroke-width="2"/><circle cx="606.6" cy="1753" r="7.2" fill="#69B1FB" stroke="#000" stroke-width="2"/><circle cx="591.2" cy="1770.9" r="7.2" fill="#69B1FB" stroke="#000" stroke-width="2"/><circle cx="606.6" cy="1768.7" r="7.2" fill="#69B1FB" stroke="#000" stroke-width="2"/><circle cx="622.3" cy="1772.8" r="7.2" fill="#69B1FB" stroke="#000" stroke-width="2"/><circle cx="614.6" cy="1815.9" r="7.2" fill="#69B1FB" stroke="#000" stroke-width="2"/><circle cx="598.9" cy="1827.7" r="7.2" fill="#69B1FB" stroke="#000" stroke-width="2"/></g>
<g><path d="M722.3 1783V1790.4M722.3 1923V1927.5M710.42 1783H734.18M710.42 1927.5H734.18" stroke="#000" stroke-width="2" fill="none"/><rect x="700.3" y="1790.4" width="44" height="132.6" fill="#FF2600" stroke="#000" stroke-width="2"/><path d="M700.3 1901.4H744.3" stroke="#000" stroke-width="2"/><circle cx="706.6" cy="1783" r="7.2" fill="#FF2600" stroke="#000" stroke-width="2"/><circle cx="737.5" cy="1795.6" r="7.2" fill="#FF2600" stroke="#000" stroke-width="2"/><circle cx="721.8" cy="1901.4" r="7.2" fill="#FF2600" stroke="#000" stroke-width="2"/><circle cx="737.5" cy="1920.3" r="7.2" fill="#FF2600" stroke="#000" stroke-width="2"/><circle cx="706.6" cy="1927.5" r="7.2" fill="#FF2600" stroke="#000" stroke-width="2"/></g>
<g><path d="M791.35 1711V1726.9M791.35 1759.6V1776.1M779.281 1711H803.419M779.281 1776.1H803.419" stroke="#000" stroke-width="2" fill="none"/><rect x="769" y="1726.9" width="44.7" height="32.7" fill="#69B1FB" stroke="#000" stroke-width="2"/><path d="M769 1744.5H813.7" stroke="#000" stroke-width="2"/><circle cx="790.9" cy="1711" r="7.2" fill="#69B1FB" stroke="#000" stroke-width="2"/><circle cx="775.8" cy="1730" r="7.2" fill="#69B1FB" stroke="#000" stroke-width="2"/><circle cx="806.6" cy="1735.4" r="7.2" fill="#69B1FB" stroke="#000" stroke-width="2"/><circle cx="775.8" cy="1754.7" r="7.2" fill="#69B1FB" stroke="#000" stroke-width="2"/><circle cx="806.6" cy="1754.7" r="7.2" fill="#69B1FB" stroke="#000" stroke-width="2"/><circle cx="790.9" cy="1776.1" r="7.2" fill="#69B1FB" stroke="#000" stroke-width="2"/></g>
<g><path d="M906.2 1777.5V1788.7M906.2 1905V1920.6M894.104 1777.5H918.296M894.104 1920.6H918.296" stroke="#000" stroke-width="2" fill="none"/><rect x="883.8" y="1788.7" width="44.8" height="116.3" fill="#FF2600" stroke="#000" stroke-width="2"/><path d="M883.8 1877.2H928.6" stroke="#000" stroke-width="2"/><circle cx="921.7" cy="1777.5" r="7.2" fill="#FF2600" stroke="#000" stroke-width="2"/><circle cx="890.7" cy="1791.2" r="7.2" fill="#FF2600" stroke="#000" stroke-width="2"/><circle cx="921.7" cy="1875" r="7.2" fill="#FF2600" stroke="#000" stroke-width="2"/><circle cx="890.7" cy="1880.2" r="7.2" fill="#FF2600" stroke="#000" stroke-width="2"/><circle cx="906" cy="1901.4" r="7.2" fill="#FF2600" stroke="#000" stroke-width="2"/><circle cx="906" cy="1920.6" r="7.2" fill="#FF2600" stroke="#000" stroke-width="2"/></g>
<g><path d="M975.4 1701.9V1706M975.4 1729.4V1736.3M963.304 1701.9H987.496M963.304 1736.3H987.496" stroke="#000" stroke-width="2" fill="none"/><rect x="953" y="1706" width="44.8" height="23.4" fill="#69B1FB" stroke="#000" stroke-width="2"/><circle cx="969.5" cy="1706.6" r="7.2" fill="#69B1FB" stroke="#000" stroke-width="2"/><circle cx="980.5" cy="1701.9" r="7.2" fill="#69B1FB" stroke="#000" stroke-width="2"/><circle cx="980.5" cy="1733.5" r="7.2" fill="#69B1FB" stroke="#000" stroke-width="2"/><circle cx="970" cy="1727.5" r="7.2" fill="#69B1FB" stroke="#000" stroke-width="2"/><circle cx="990.7" cy="1730" r="7.2" fill="#69B1FB" stroke="#000" stroke-width="2"/><circle cx="959.9" cy="1736.3" r="7.2" fill="#69B1FB" stroke="#000" stroke-width="2"/></g>
</g>
<g id="panel-b">
<text x="1137.5" y="28.3" font-size="37" font-weight="bold" fill="#333">b</text>
<text x="1450.6" y="43.4" font-size="34.8" text-anchor="middle" stroke="#000" stroke-width="0.5">amplified by AHC-6 (+TM)</text>
<text transform="translate(1247 82.9) scale(0.745 1)" font-size="37.7" text-anchor="middle" stroke="#000" stroke-width="0.5">-1</text>
<text transform="translate(1350.5 82.9) scale(0.745 1)" font-size="37.7" text-anchor="middle" stroke="#000" stroke-width="0.5">6</text>
<text transform="translate(1453 82.9) scale(0.745 1)" font-size="37.7" text-anchor="middle" stroke="#000" stroke-width="0.5">12</text>
<text transform="translate(1553 82.9) scale(0.745 1)" font-size="37.7" text-anchor="middle" stroke="#000" stroke-width="0.5">14</text>
<text transform="translate(1654.8 82.9) scale(0.745 1)" font-size="37.7" text-anchor="middle" stroke="#000" stroke-width="0.5">19</text>
<line x1="1249.2" y1="97.5" x2="1249.2" y2="524.5" stroke="#cbcbcb" stroke-width="2.2"/>
<line x1="1350.5" y1="97.5" x2="1350.5" y2="524.5" stroke="#cbcbcb" stroke-width="2.2"/>
<line x1="1451.6" y1="97.5" x2="1451.6" y2="524.5" stroke="#cbcbcb" stroke-width="2.2"/>
<line x1="1552.7" y1="97.5" x2="1552.7" y2="524.5" stroke="#cbcbcb" stroke-width="2.2"/>
<line x1="1653.7" y1="97.5" x2="1653.7" y2="524.5" stroke="#cbcbcb" stroke-width="2.2"/>
<line x1="1201.6" y1="164" x2="1687.2" y2="164" stroke="#d2d2d2" stroke-width="1.6"/>
<line x1="1201.6" y1="245" x2="1687.2" y2="245" stroke="#c4c4c4" stroke-width="3"/>
<line x1="1201.6" y1="320.7" x2="1687.2" y2="320.7" stroke="#d2d2d2" stroke-width="1.6"/>
<line x1="1201.6" y1="380.5" x2="1687.2" y2="380.5" stroke="#d2d2d2" stroke-width="1.6"/>
<line x1="1201.6" y1="452.5" x2="1687.2" y2="452.5" stroke="#d2d2d2" stroke-width="1.6"/>
<line x1="1201.6" y1="513.2" x2="1687.2" y2="513.2" stroke="#d2d2d2" stroke-width="1.6"/>
<rect x="1198.6" y="88.5" width="505.3" height="443.4" fill="none" stroke="#1a1a1a" stroke-width="1.5"/>
<line x1="1704" y1="172" x2="1704" y2="507.2" stroke="#777" stroke-width="1.7"/>
<text x="1162.4" y="176.7" font-size="38" text-anchor="middle" stroke="#000" stroke-width="0.7">+</text>
<text x="1163.4" y="257" font-size="44" text-anchor="middle" stroke="#000" stroke-width="0.6">-</text>
<text x="1162.4" y="333.4" font-size="38" text-anchor="middle" stroke="#000" stroke-width="0.7">+</text>
<text x="1163.4" y="392.5" font-size="44" text-anchor="middle" stroke="#000" stroke-width="0.6">-</text>
<text x="1162.4" y="465.2" font-size="38" text-anchor="middle" stroke="#000" stroke-width="0.7">+</text>
<text x="1163.4" y="525.2" font-size="44" text-anchor="middle" stroke="#000" stroke-width="0.6">-</text>
<path d="M1243.6 240.2L1254.8 251.4M1243.6 251.4L1254.8 240.2" stroke="#222" stroke-width="5.6" fill="none"/>
<circle cx="1350.5" cy="243.6" r="43.4" fill="#0ABA3A" stroke="#000" stroke-width="3"/>
<circle cx="1451.6" cy="245" r="31.7" fill="#0ABA3A" stroke="#000" stroke-width="3"/>
<circle cx="1552.7" cy="245" r="10.7" fill="#0ABA3A" stroke="#000" stroke-width="3"/>
<circle cx="1653.7" cy="245" r="3.8" fill="#0ABA3A" stroke="#000" stroke-width="3"/>
<path d="M1243.6 159.2L1254.8 170.4M1243.6 170.4L1254.8 159.2" stroke="#222" stroke-width="5.6" fill="none"/>
<circle cx="1350.7" cy="169.6" r="67.6" fill="#0ABA3A" stroke="#000" stroke-width="3"/>
<circle cx="1451.6" cy="164" r="41" fill="#0ABA3A" stroke="#000" stroke-width="3"/>
<circle cx="1552.7" cy="164" r="21.5" fill="#0ABA3A" stroke="#000" stroke-width="3"/>
<circle cx="1653.7" cy="164" r="7.2" fill="#0ABA3A" stroke="#000" stroke-width="3"/>
<path d="M1243.6 315.9L1254.8 327.1M1243.6 327.1L1254.8 315.9" stroke="#222" stroke-width="5.6" fill="none"/>
<circle cx="1350.5" cy="320.7" r="10.3" fill="#C9A51C" stroke="#000" stroke-width="3"/>
<circle cx="1451.6" cy="320.7" r="3.9" fill="#E6D98C" stroke="#000" stroke-width="3"/>
<circle cx="1552.7" cy="320.7" r="4.2" fill="#D8C56A" stroke="#000" stroke-width="3"/>
<path d="M1648.1 315.9L1659.3 327.1M1648.1 327.1L1659.3 315.9" stroke="#222" stroke-width="5.6" fill="none"/>
<path d="M1243.6 375.7L1254.8 386.9M1243.6 386.9L1254.8 375.7" stroke="#222" stroke-width="5.6" fill="none"/>
<circle cx="1350.5" cy="380.5" r="4" fill="#DCCB78" stroke="#000" stroke-width="3"/>
<path d="M1446 375.7L1457.2 386.9M1446 386.9L1457.2 375.7" stroke="#222" stroke-width="5.6" fill="none"/>
<path d="M1547.1 375.7L1558.3 386.9M1547.1 386.9L1558.3 375.7" stroke="#222" stroke-width="5.6" fill="none"/>
<path d="M1648.1 375.7L1659.3 386.9M1648.1 386.9L1659.3 375.7" stroke="#222" stroke-width="5.6" fill="none"/>
<path d="M1243.6 447.7L1254.8 458.9M1243.6 458.9L1254.8 447.7" stroke="#222" stroke-width="5.6" fill="none"/>
<circle cx="1350.5" cy="452.5" r="9.6" fill="#13C26E" stroke="#000" stroke-width="3"/>
<path d="M1446 447.7L1457.2 458.9M1446 458.9L1457.2 447.7" stroke="#222" stroke-width="5.6" fill="none"/>
<path d="M1547.1 447.7L1558.3 458.9M1547.1 458.9L1558.3 447.7" stroke="#222" stroke-width="5.6" fill="none"/>
<path d="M1648.1 447.7L1659.3 458.9M1648.1 458.9L1659.3 447.7" stroke="#222" stroke-width="5.6" fill="none"/>
<path d="M1243.6 508.4L1254.8 519.6M1243.6 519.6L1254.8 508.4" stroke="#222" stroke-width="5.6" fill="none"/>
<path d="M1344.9 508.4L1356.1 519.6M1344.9 519.6L1356.1 508.4" stroke="#222" stroke-width="5.6" fill="none"/>
<path d="M1446 508.4L1457.2 519.6M1446 519.6L1457.2 508.4" stroke="#222" stroke-width="5.6" fill="none"/>
<path d="M1547.1 508.4L1558.3 519.6M1547.1 519.6L1558.3 508.4" stroke="#222" stroke-width="5.6" fill="none"/>
<circle cx="1653.7" cy="513.2" r="2.4" fill="#000" stroke="#000" stroke-width="3"/>
<text transform="translate(1711.2 206.6) scale(0.929 1)" font-size="32.3" font-style="italic" fill="#2b2b2b" stroke="#2b2b2b" stroke-width="0.4">Klebsiella</text>
<text transform="translate(1711.2 347) scale(0.929 1)" font-size="32.3" font-style="italic" fill="#2b2b2b" stroke="#2b2b2b" stroke-width="0.4">Clostridium sensu</text>
<text transform="translate(1711.2 379.1) scale(0.929 1)" font-size="32.3" font-style="italic" fill="#2b2b2b" stroke="#2b2b2b" stroke-width="0.4">stricto 1</text>
<text transform="translate(1715.3 496.4) scale(0.929 1)" font-size="32.3" font-style="italic" fill="#2b2b2b" stroke="#2b2b2b" stroke-width="0.4">Enterococcus</text>
<text x="1451.2" y="640.4" font-size="34.8" text-anchor="middle" stroke="#000" stroke-width="0.5">suppressed by AHC-6 (+TM)</text>
<text transform="translate(1245.3 681.6) scale(0.745 1)" font-size="37.7" text-anchor="middle" stroke="#000" stroke-width="0.5">-1</text>
<text transform="translate(1348.8 681.6) scale(0.745 1)" font-size="37.7" text-anchor="middle" stroke="#000" stroke-width="0.5">6</text>
<text transform="translate(1451.3 681.6) scale(0.745 1)" font-size="37.7" text-anchor="middle" stroke="#000" stroke-width="0.5">12</text>
<text transform="translate(1551.3 681.6) scale(0.745 1)" font-size="37.7" text-anchor="middle" stroke="#000" stroke-width="0.5">14</text>
<text transform="translate(1653.1 681.6) scale(0.745 1)" font-size="37.7" text-anchor="middle" stroke="#000" stroke-width="0.5">19</text>
<line x1="1249.2" y1="690.5" x2="1249.2" y2="1596.2" stroke="#cbcbcb" stroke-width="2.2"/>
<line x1="1350.5" y1="690.5" x2="1350.5" y2="1596.2" stroke="#cbcbcb" stroke-width="2.2"/>
<line x1="1451.6" y1="690.5" x2="1451.6" y2="1596.2" stroke="#cbcbcb" stroke-width="2.2"/>
<line x1="1552.7" y1="690.5" x2="1552.7" y2="1596.2" stroke="#cbcbcb" stroke-width="2.2"/>
<line x1="1653.7" y1="690.5" x2="1653.7" y2="1596.2" stroke="#cbcbcb" stroke-width="2.2"/>
<line x1="1201.6" y1="730.3" x2="1687.2" y2="730.3" stroke="#d2d2d2" stroke-width="1.6"/>
<line x1="1201.6" y1="790.2" x2="1687.2" y2="790.2" stroke="#d2d2d2" stroke-width="1.6"/>
<line x1="1201.6" y1="860.2" x2="1687.2" y2="860.2" stroke="#d2d2d2" stroke-width="1.6"/>
<line x1="1201.6" y1="919.8" x2="1687.2" y2="919.8" stroke="#d2d2d2" stroke-width="1.6"/>
<line x1="1201.6" y1="991.5" x2="1687.2" y2="991.5" stroke="#d2d2d2" stroke-width="1.6"/>
<line x1="1201.6" y1="1051.6" x2="1687.2" y2="1051.6" stroke="#d2d2d2" stroke-width="1.6"/>
<line x1="1201.6" y1="1123.4" x2="1687.2" y2="1123.4" stroke="#d2d2d2" stroke-width="1.6"/>
<line x1="1201.6" y1="1183.2" x2="1687.2" y2="1183.2" stroke="#d2d2d2" stroke-width="1.6"/>
<line x1="1201.6" y1="1255.8" x2="1687.2" y2="1255.8" stroke="#d2d2d2" stroke-width="1.6"/>
<line x1="1201.6" y1="1315.4" x2="1687.2" y2="1315.4" stroke="#d2d2d2" stroke-width="1.6"/>
<line x1="1201.6" y1="1387.6" x2="1687.2" y2="1387.6" stroke="#d2d2d2" stroke-width="1.6"/>
<line x1="1201.6" y1="1439" x2="1687.2" y2="1439" stroke="#d2d2d2" stroke-width="1.6"/>
<line x1="1201.6" y1="1511.3" x2="1687.2" y2="1511.3" stroke="#d2d2d2" stroke-width="1.6"/>
<line x1="1201.6" y1="1571.2" x2="1687.2" y2="1571.2" stroke="#d2d2d2" stroke-width="1.6"/>
<rect x="1198.6" y="687.7" width="505.3" height="920" fill="none" stroke="#1a1a1a" stroke-width="1.5"/>
<line x1="1704" y1="738.3" x2="1704" y2="1565.2" stroke="#777" stroke-width="1.7"/>
<text x="1162.4" y="743.6" font-size="38" text-anchor="middle" stroke="#000" stroke-width="0.7">+</text>
<text x="1163.4" y="802.2" font-size="44" text-anchor="middle" stroke="#000" stroke-width="0.6">-</text>
<text x="1162.4" y="873.5" font-size="38" text-anchor="middle" stroke="#000" stroke-width="0.7">+</text>
<text x="1163.4" y="931.8" font-size="44" text-anchor="middle" stroke="#000" stroke-width="0.6">-</text>
<text x="1162.4" y="1004.8" font-size="38" text-anchor="middle" stroke="#000" stroke-width="0.7">+</text>
<text x="1163.4" y="1063.6" font-size="44" text-anchor="middle" stroke="#000" stroke-width="0.6">-</text>
<text x="1162.4" y="1136.7" font-size="38" text-anchor="middle" stroke="#000" stroke-width="0.7">+</text>
<text x="1163.4" y="1195.2" font-size="44" text-anchor="middle" stroke="#000" stroke-width="0.6">-</text>
<text x="1162.4" y="1269.1" font-size="38" text-anchor="middle" stroke="#000" stroke-width="0.7">+</text>
<text x="1163.4" y="1327.4" font-size="44" text-anchor="middle" stroke="#000" stroke-width="0.6">-</text>
<text x="1162.4" y="1400.9" font-size="38" text-anchor="middle" stroke="#000" stroke-width="0.7">+</text>
<text x="1163.4" y="1451" font-size="44" text-anchor="middle" stroke="#000" stroke-width="0.6">-</text>
<text x="1162.4" y="1524.6" font-size="38" text-anchor="middle" stroke="#000" stroke-width="0.7">+</text>
<text x="1163.4" y="1583.2" font-size="44" text-anchor="middle" stroke="#000" stroke-width="0.6">-</text>
<circle cx="1249.2" cy="730.3" r="27.6" fill="#F563DF" stroke="#000" stroke-width="3"/>
<circle cx="1350.5" cy="730.3" r="7.2" fill="#F563DF" stroke="#000" stroke-width="3"/>
<circle cx="1451.6" cy="730.3" r="11.9" fill="#F563DF" stroke="#000" stroke-width="3"/>
<circle cx="1552.7" cy="730.3" r="12.9" fill="#F563DF" stroke="#000" stroke-width="3"/>
<circle cx="1653.7" cy="730.3" r="12.5" fill="#F563DF" stroke="#000" stroke-width="3"/>
<circle cx="1249.2" cy="790.2" r="26.2" fill="#F563DF" stroke="#000" stroke-width="3"/>
<circle cx="1350.5" cy="790.2" r="14.5" fill="#F563DF" stroke="#000" stroke-width="3"/>
<circle cx="1451.6" cy="790.2" r="8.9" fill="#F563DF" stroke="#000" stroke-width="3"/>
<circle cx="1552.7" cy="790.2" r="12.9" fill="#F563DF" stroke="#000" stroke-width="3"/>
<circle cx="1653.7" cy="790.2" r="17.4" fill="#F563DF" stroke="#000" stroke-width="3"/>
<circle cx="1249.2" cy="860.2" r="22.1" fill="#C77CFF" stroke="#000" stroke-width="3"/>
<path d="M1344.9 855.4L1356.1 866.6M1344.9 866.6L1356.1 855.4" stroke="#222" stroke-width="5.6" fill="none"/>
<circle cx="1451.6" cy="860.2" r="3.7" fill="#C77CFF" stroke="#000" stroke-width="3"/>
<circle cx="1552.7" cy="860.2" r="9.3" fill="#C77CFF" stroke="#000" stroke-width="3"/>
<circle cx="1653.7" cy="860.2" r="8.6" fill="#C77CFF" stroke="#000" stroke-width="3"/>
<circle cx="1249.2" cy="910.8" r="21.3" fill="#C77CFF" stroke="#000" stroke-width="3"/>
<circle cx="1350.5" cy="919.8" r="7.2" fill="#C77CFF" stroke="#000" stroke-width="3"/>
<circle cx="1451.6" cy="919.8" r="7.2" fill="#C77CFF" stroke="#000" stroke-width="3"/>
<circle cx="1552.7" cy="910.8" r="17.8" fill="#C77CFF" stroke="#000" stroke-width="3"/>
<circle cx="1653.7" cy="910.8" r="15.4" fill="#C77CFF" stroke="#000" stroke-width="3"/>
<circle cx="1249.2" cy="991.5" r="23.3" fill="#08BFC4" stroke="#000" stroke-width="3"/>
<circle cx="1350.5" cy="991.5" r="6.3" fill="#08BFC4" stroke="#000" stroke-width="3"/>
<circle cx="1451.6" cy="991.5" r="11.4" fill="#08BFC4" stroke="#000" stroke-width="3"/>
<circle cx="1552.7" cy="991.5" r="27.2" fill="#08BFC4" stroke="#000" stroke-width="3"/>
<circle cx="1653.7" cy="991.5" r="25.2" fill="#08BFC4" stroke="#000" stroke-width="3"/>
<circle cx="1249.2" cy="1051.6" r="22.1" fill="#08BFC4" stroke="#000" stroke-width="3"/>
<circle cx="1350.5" cy="1051.6" r="15.9" fill="#08BFC4" stroke="#000" stroke-width="3"/>
<circle cx="1451.6" cy="1051.6" r="15.8" fill="#08BFC4" stroke="#000" stroke-width="3"/>
<circle cx="1552.7" cy="1051.6" r="30.8" fill="#08BFC4" stroke="#000" stroke-width="3"/>
<circle cx="1653.7" cy="1051.6" r="26.3" fill="#08BFC4" stroke="#000" stroke-width="3"/>
<circle cx="1249.2" cy="1123.4" r="11.6" fill="#0FA9FF" stroke="#000" stroke-width="3"/>
<path d="M1344.9 1118.6L1356.1 1129.8M1344.9 1129.8L1356.1 1118.6" stroke="#222" stroke-width="5.6" fill="none"/>
<circle cx="1451.6" cy="1123.4" r="6.1" fill="#0FA9FF" stroke="#000" stroke-width="3"/>
<circle cx="1552.7" cy="1123.4" r="14.1" fill="#0FA9FF" stroke="#000" stroke-width="3"/>
<circle cx="1653.7" cy="1123.4" r="18.1" fill="#0FA9FF" stroke="#000" stroke-width="3"/>
<circle cx="1249.2" cy="1183.2" r="11.8" fill="#0FA9FF" stroke="#000" stroke-width="3"/>
<circle cx="1350.5" cy="1183.2" r="6.3" fill="#0FA9FF" stroke="#000" stroke-width="3"/>
<circle cx="1451.6" cy="1183.2" r="9.7" fill="#0FA9FF" stroke="#000" stroke-width="3"/>
<circle cx="1552.7" cy="1183.2" r="21.7" fill="#0FA9FF" stroke="#000" stroke-width="3"/>
<circle cx="1653.7" cy="1183.2" r="18.1" fill="#0FA9FF" stroke="#000" stroke-width="3"/>
<circle cx="1249.2" cy="1255.8" r="9.7" fill="#F9766E" stroke="#000" stroke-width="3"/>
<circle cx="1350.5" cy="1255.8" r="3.5" fill="#F9766E" stroke="#000" stroke-width="3"/>
<circle cx="1451.6" cy="1255.8" r="8.2" fill="#F9766E" stroke="#000" stroke-width="3"/>
<circle cx="1552.7" cy="1255.8" r="9.6" fill="#F9766E" stroke="#000" stroke-width="3"/>
<circle cx="1653.7" cy="1255.8" r="7.2" fill="#F9766E" stroke="#000" stroke-width="3"/>
<circle cx="1249.2" cy="1315.4" r="10.5" fill="#F9766E" stroke="#000" stroke-width="3"/>
<circle cx="1350.5" cy="1315.4" r="10.1" fill="#F9766E" stroke="#000" stroke-width="3"/>
<circle cx="1451.6" cy="1315.4" r="9.4" fill="#F9766E" stroke="#000" stroke-width="3"/>
<circle cx="1552.7" cy="1315.4" r="10.7" fill="#F9766E" stroke="#000" stroke-width="3"/>
<circle cx="1653.7" cy="1315.4" r="6.7" fill="#F9766E" stroke="#000" stroke-width="3"/>
<circle cx="1249.2" cy="1387.6" r="8.1" fill="#9BD3AF" stroke="#000" stroke-width="3"/>
<path d="M1344.9 1382.8L1356.1 1394M1344.9 1394L1356.1 1382.8" stroke="#222" stroke-width="5.6" fill="none"/>
<circle cx="1451.6" cy="1387.6" r="4.5" fill="#9BD3AF" stroke="#000" stroke-width="3"/>
<circle cx="1552.7" cy="1387.6" r="8.2" fill="#9BD3AF" stroke="#000" stroke-width="3"/>
<circle cx="1653.7" cy="1387.6" r="11.6" fill="#9BD3AF" stroke="#000" stroke-width="3"/>
<circle cx="1249.2" cy="1439" r="8.3" fill="#9BD3AF" stroke="#000" stroke-width="3"/>
<circle cx="1350.5" cy="1439" r="4.4" fill="#9BD3AF" stroke="#000" stroke-width="3"/>
<circle cx="1451.6" cy="1439" r="4.9" fill="#9BD3AF" stroke="#000" stroke-width="3"/>
<circle cx="1552.7" cy="1439" r="11.8" fill="#9BD3AF" stroke="#000" stroke-width="3"/>
<circle cx="1653.7" cy="1439" r="10.8" fill="#9BD3AF" stroke="#000" stroke-width="3"/>
<circle cx="1249.2" cy="1511.3" r="7.9" fill="#B3BC62" stroke="#000" stroke-width="3"/>
<circle cx="1350.5" cy="1511.3" r="2.7" fill="#000" stroke="#000" stroke-width="3"/>
<circle cx="1451.6" cy="1511.3" r="4.4" fill="#B3BC62" stroke="#000" stroke-width="3"/>
<circle cx="1552.7" cy="1511.3" r="8.2" fill="#B3BC62" stroke="#000" stroke-width="3"/>
<circle cx="1653.7" cy="1511.3" r="11.6" fill="#B3BC62" stroke="#000" stroke-width="3"/>
<circle cx="1249.2" cy="1571.2" r="8.1" fill="#B3BC62" stroke="#000" stroke-width="3"/>
<circle cx="1350.5" cy="1571.2" r="4.5" fill="#B3BC62" stroke="#000" stroke-width="3"/>
<circle cx="1451.6" cy="1571.2" r="4.5" fill="#B3BC62" stroke="#000" stroke-width="3"/>
<circle cx="1552.7" cy="1571.2" r="10.3" fill="#B3BC62" stroke="#000" stroke-width="3"/>
<circle cx="1653.7" cy="1571.2" r="8.9" fill="#B3BC62" stroke="#000" stroke-width="3"/>
<text transform="translate(1713.3 757.3) scale(0.88 1)" font-size="27.4" fill="#2b2b2b">§</text>
<text transform="translate(1726.3 768) scale(0.929 1)" font-size="32.3" font-style="italic" fill="#2b2b2b" stroke="#2b2b2b" stroke-width="0.4">Alistipes</text>
<text transform="translate(1713.6 875.8) scale(0.88 1)" font-size="27.4" fill="#2b2b2b">§</text>
<text transform="translate(1727.6 884.6) scale(0.929 1)" font-size="32.3" font-style="italic" fill="#2b2b2b" stroke="#2b2b2b" stroke-width="0.4">Prevotellaceae</text>
<text transform="translate(1723.1 918.6) scale(0.929 1)" font-size="32.6" font-style="italic" fill="#2b2b2b" stroke="#2b2b2b" stroke-width="0.4">UCG-001</text>
<text transform="translate(1712 1031) scale(0.929 1)" font-size="32.3" font-style="italic" fill="#2b2b2b" stroke="#2b2b2b" stroke-width="0.4">Lachnospiracceae|g_</text>
<text transform="translate(1715.3 1153.3) scale(0.929 1)" font-size="32.3" font-style="italic" fill="#2b2b2b" stroke="#2b2b2b" stroke-width="0.4">Lachnospiracceae</text>
<text transform="translate(1714 1185.7) scale(0.929 1)" font-size="32.3" font-style="italic" fill="#2b2b2b" stroke="#2b2b2b" stroke-width="0.4">g_uncultured</text>
<text transform="translate(1715.3 1281) scale(0.929 1)" font-size="32.3" font-style="italic" fill="#2b2b2b" stroke="#2b2b2b" stroke-width="0.4">Clostridia vadinBB60</text>
<text transform="translate(1714.3 1312.6) scale(0.929 1)" font-size="32.3" font-style="italic" fill="#2b2b2b" stroke="#2b2b2b" stroke-width="0.4">group</text>
<text transform="translate(1715.3 1429.4) scale(0.929 1)" font-size="32.3" font-style="italic" fill="#2b2b2b" stroke="#2b2b2b" stroke-width="0.4">Oscillibacter</text>
<text transform="translate(1713.5 1551.6) scale(0.929 1)" font-size="32.3" font-style="italic" fill="#2b2b2b" stroke="#2b2b2b" stroke-width="0.4">Oscillospiraceae|g_</text>
<text x="1458.2" y="1645.6" font-size="34.75" text-anchor="middle" stroke="#000" stroke-width="0.5">Days post infection</text>
<text x="1234.6" y="1736.3" font-size="34.3" stroke="#000" stroke-width="0.5" textLength="403.2" lengthAdjust="spacingAndGlyphs">Relative Abundance [%]</text>
<path d="M1216.1 1815.2L1226.7 1825.8M1216.1 1825.8L1226.7 1815.2" stroke="#222" stroke-width="5.4" fill="none"/>
<circle cx="1276.6" cy="1820.5" r="18.9" fill="#BBBEC0" stroke="#000" stroke-width="3"/>
<circle cx="1365.1" cy="1820.2" r="37.3" fill="#BBBEC0" stroke="#000" stroke-width="3"/>
<circle cx="1487.4" cy="1820.2" r="51.7" fill="#BBBEC0" stroke="#000" stroke-width="3"/>
<circle cx="1635.5" cy="1820.2" r="62.6" fill="#BBBEC0" stroke="#000" stroke-width="3"/>
<text x="1220.9" y="1914.3" font-size="30.5" text-anchor="middle" fill="#333" stroke="#333" stroke-width="0.5">0</text>
<text x="1277.2" y="1914.3" font-size="30.5" text-anchor="middle" fill="#333" stroke="#333" stroke-width="0.5">5</text>
<text x="1365.4" y="1914.3" font-size="30.5" text-anchor="middle" fill="#333" stroke="#333" stroke-width="0.5">20</text>
<text x="1486.8" y="1914.3" font-size="30.5" text-anchor="middle" fill="#333" stroke="#333" stroke-width="0.5">40</text>
<text x="1639.4" y="1914.3" font-size="30.5" text-anchor="middle" fill="#333" stroke="#333" stroke-width="0.5">60</text>
</g>
</svg>
</body></html>
